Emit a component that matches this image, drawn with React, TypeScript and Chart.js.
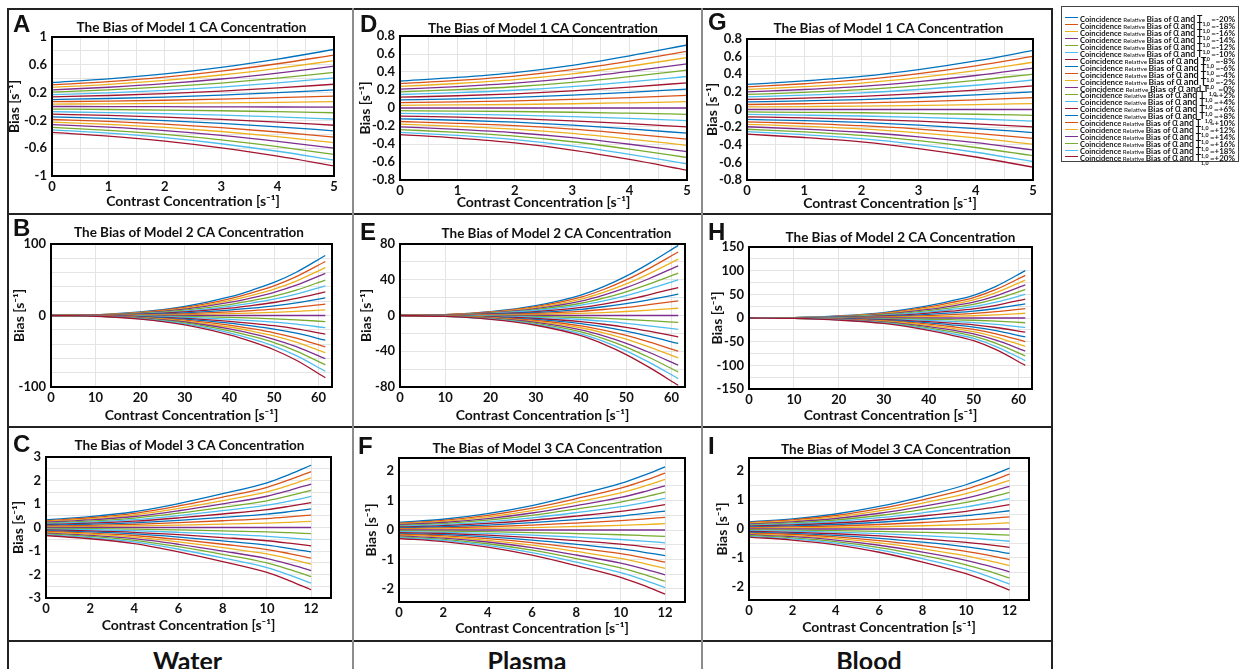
import React, { useEffect, useRef } from 'react';
import { Chart, registerables } from 'chart.js';

Chart.register(...registerables);

const FONT = "Lato, 'Open Sans', 'DejaVu Sans', sans-serif";
const LETTER_FONT = "'Liberation Sans', Arial, sans-serif";
const COLORS = ['#0072BD', '#D95319', '#EDB120', '#7E2F8E', '#77AC30', '#4DBEEE', '#A2142F'];
const GRID = '#e4e4e4';

const T_LEVELS = ['-20%', '-18%', '-16%', '-14%', '-12%', '-10%', '-8%', '-6%', '-4%', '-2%', '0%',
  '+2%', '+4%', '+6%', '+8%', '+10%', '+12%', '+14%', '+16%', '+18%', '+20%'];
const MEDIA = ['Water', 'Plasma', 'Blood'];

// ---------- Model 1 (x = 0..5) ----------
const M1_X = [0, 1, 2, 3, 4, 5];
const A_X0 = [0.345, 0.31, 0.276, 0.24, 0.207, 0.17, 0.138, 0.1, 0.069, 0.035, 0, -0.037, -0.075, -0.11, -0.15, -0.187, -0.224, -0.26, -0.3, -0.336, -0.373];
const A_X1 = [0.397, 0.357, 0.318, 0.277, 0.238, 0.196, 0.158, 0.115, 0.078, 0.039, -0.001, -0.043, -0.087, -0.128, -0.172, -0.215, -0.257, -0.297, -0.343, -0.384, -0.426];
const A_X2 = [0.469, 0.422, 0.376, 0.328, 0.281, 0.232, 0.185, 0.136, 0.09, 0.044, -0.003, -0.051, -0.102, -0.152, -0.202, -0.253, -0.301, -0.348, -0.401, -0.449, -0.498];
const A_X3 = [0.564, 0.508, 0.453, 0.396, 0.337, 0.28, 0.222, 0.164, 0.106, 0.051, -0.005, -0.061, -0.123, -0.184, -0.242, -0.303, -0.36, -0.416, -0.479, -0.536, -0.595];
const A_X4 = [0.682, 0.615, 0.549, 0.481, 0.408, 0.34, 0.267, 0.199, 0.127, 0.06, -0.007, -0.075, -0.15, -0.224, -0.292, -0.367, -0.434, -0.501, -0.577, -0.644, -0.715];
const A_X5 = [0.82, 0.74, 0.66, 0.58, 0.49, 0.41, 0.32, 0.24, 0.15, 0.07, -0.01, -0.09, -0.18, -0.27, -0.35, -0.44, -0.52, -0.6, -0.69, -0.77, -0.855];

const D_X0 = [0.3, 0.27, 0.24, 0.21, 0.18, 0.15, 0.12, 0.09, 0.06, 0.03, 0, -0.03, -0.06, -0.09, -0.12, -0.15, -0.18, -0.21, -0.24, -0.27, -0.295];
const D_X1 = [0.34, 0.306, 0.272, 0.238, 0.204, 0.17, 0.136, 0.102, 0.068, 0.034, 0, -0.034, -0.068, -0.102, -0.136, -0.17, -0.204, -0.238, -0.271, -0.305, -0.335];
const D_X2 = [0.394, 0.355, 0.315, 0.276, 0.236, 0.197, 0.158, 0.118, 0.079, 0.039, 0, -0.039, -0.079, -0.118, -0.158, -0.196, -0.235, -0.275, -0.313, -0.352, -0.388];
const D_X3 = [0.474, 0.427, 0.379, 0.332, 0.284, 0.237, 0.19, 0.142, 0.095, 0.047, 0, -0.047, -0.095, -0.142, -0.19, -0.235, -0.282, -0.33, -0.375, -0.422, -0.467];
const D_X4 = [0.58, 0.522, 0.464, 0.406, 0.348, 0.29, 0.232, 0.174, 0.116, 0.058, 0, -0.058, -0.116, -0.174, -0.232, -0.287, -0.345, -0.403, -0.457, -0.515, -0.572];
const D_X5 = [0.7, 0.63, 0.56, 0.49, 0.42, 0.35, 0.28, 0.21, 0.14, 0.07, 0, -0.07, -0.14, -0.21, -0.28, -0.345, -0.415, -0.485, -0.55, -0.62, -0.69];

const G_X0 = [0.285, 0.257, 0.228, 0.2, 0.171, 0.143, 0.114, 0.086, 0.057, 0.029, 0, -0.028, -0.056, -0.084, -0.112, -0.14, -0.168, -0.196, -0.224, -0.252, -0.28];
const G_X1 = [0.324, 0.292, 0.259, 0.227, 0.194, 0.162, 0.129, 0.098, 0.065, 0.033, 0, -0.032, -0.064, -0.095, -0.127, -0.159, -0.191, -0.222, -0.254, -0.286, -0.318];
const G_X2 = [0.375, 0.338, 0.3, 0.263, 0.225, 0.188, 0.15, 0.113, 0.075, 0.038, 0, -0.037, -0.074, -0.111, -0.147, -0.184, -0.221, -0.258, -0.294, -0.331, -0.368];
const G_X3 = [0.452, 0.408, 0.362, 0.317, 0.271, 0.227, 0.181, 0.136, 0.09, 0.046, 0, -0.045, -0.089, -0.133, -0.177, -0.222, -0.266, -0.31, -0.354, -0.399, -0.443];
const G_X4 = [0.551, 0.496, 0.441, 0.386, 0.33, 0.275, 0.22, 0.165, 0.11, 0.055, 0, -0.054, -0.108, -0.162, -0.216, -0.27, -0.323, -0.377, -0.431, -0.485, -0.539];
const G_X5 = [0.67, 0.603, 0.536, 0.469, 0.402, 0.335, 0.268, 0.201, 0.134, 0.067, 0, -0.066, -0.131, -0.197, -0.262, -0.328, -0.393, -0.459, -0.524, -0.59, -0.655];

// ---------- Model 2 (x = 0..61.5) ----------
const M2_X = [0, 10, 20, 30, 40, 45, 50, 55, 61.5];
const M2_ZERO = [0, 0, 0, 0, 0, 0, 0, 0, 0, 0, 0, 0, 0, 0, 0, 0, 0, 0, 0, 0, 0];
const B_X10 = [1.0, 0.91, 0.8, 0.71, 0.59, 0.5, 0.4, 0.29, 0.19, 0.1, 0, -0.1, -0.2, -0.31, -0.41, -0.53, -0.62, -0.73, -0.83, -0.94, -1.04];
const B_X20 = [4.87, 4.38, 3.89, 3.42, 2.87, 2.41, 1.91, 1.42, 0.93, 0.46, 0, -0.49, -0.99, -1.51, -2.0, -2.55, -3.02, -3.51, -4.0, -4.52, -5.05];
const B_X30 = [12.6, 11.3, 10.05, 8.85, 7.4, 6.2, 4.95, 3.7, 2.4, 1.2, 0, -1.3, -2.55, -3.9, -5.2, -6.6, -7.8, -9.1, -10.35, -11.7, -13.05];
const B_X40 = [26.0, 23.4, 20.8, 18.3, 15.3, 12.9, 10.2, 7.6, 5.0, 2.5, 0, -2.6, -5.3, -8.1, -10.7, -13.6, -16.1, -18.8, -21.4, -24.2, -27.0];
const B_X45 = [35.3, 31.7, 28.1, 24.8, 20.8, 17.4, 13.9, 10.3, 6.7, 3.4, 0, -3.6, -7.1, -10.9, -14.5, -18.5, -21.8, -25.4, -29.0, -32.8, -36.5];
const B_X50 = [46.2, 41.5, 36.9, 32.5, 27.2, 22.8, 18.2, 13.5, 8.8, 4.4, 0, -4.7, -9.35, -14.3, -19.0, -24.2, -28.6, -33.3, -38.0, -42.9, -47.9];
const B_X55 = [60.5, 54.4, 48.2, 42.5, 35.6, 29.9, 23.8, 17.6, 11.5, 5.8, 0, -6.1, -12.2, -18.7, -24.8, -31.7, -37.4, -43.6, -49.7, -56.2, -62.6];
const B_END = [84, 75.5, 67, 59, 49.5, 41.5, 33, 24.5, 16, 8, 0, -8.5, -17, -26, -34.5, -44, -52, -60.5, -69, -78, -87];

const E_X10 = [1.02, 0.92, 0.82, 0.72, 0.62, 0.52, 0.41, 0.31, 0.21, 0.11, 0, -0.1, -0.2, -0.31, -0.41, -0.52, -0.62, -0.72, -0.82, -0.92, -1.02];
const E_X20 = [4.32, 3.9, 3.47, 3.06, 2.61, 2.19, 1.72, 1.31, 0.9, 0.45, 0, -0.42, -0.85, -1.31, -1.72, -2.19, -2.61, -3.06, -3.47, -3.88, -4.3];
const E_X30 = [11.0, 9.94, 8.82, 7.78, 6.64, 5.59, 4.38, 3.33, 2.28, 1.13, 0, -1.08, -2.17, -3.33, -4.38, -5.59, -6.64, -7.78, -8.83, -9.88, -10.9];
const E_X40 = [22.8, 20.6, 18.3, 16.1, 13.7, 11.6, 9.1, 6.9, 4.7, 2.35, 0, -2.23, -4.5, -6.9, -9.1, -11.6, -13.7, -16.1, -18.3, -20.5, -22.6];
const E_X45 = [32.2, 29.1, 25.8, 22.8, 19.4, 16.4, 12.8, 9.8, 6.7, 3.3, 0, -3.2, -6.4, -9.8, -12.8, -16.4, -19.4, -22.8, -25.9, -28.9, -32.0];
const E_X50 = [44.0, 39.8, 35.3, 31.1, 26.5, 22.3, 17.5, 13.3, 9.1, 4.5, 0, -4.3, -8.7, -13.3, -17.5, -22.3, -26.5, -31.1, -35.3, -39.5, -43.7];
const E_X55 = [58.1, 52.5, 46.6, 41.1, 35.1, 29.5, 23.2, 17.6, 12.1, 6.0, 0, -5.7, -11.5, -17.6, -23.2, -29.5, -35.1, -41.1, -46.7, -52.2, -57.8];
const E_END = [78.5, 71, 63, 55.6, 47.4, 39.9, 31.3, 23.8, 16.3, 8.1, 0, -7.7, -15.5, -23.8, -31.3, -39.9, -47.4, -55.6, -63.1, -70.6, -78.1];

const H_X10 = [1.0, 0.9, 0.8, 0.7, 0.6, 0.5, 0.4, 0.3, 0.2, 0.1, 0, -0.1, -0.2, -0.3, -0.4, -0.5, -0.6, -0.7, -0.8, -0.9, -1.0];
const H_X20 = [4.5, 4.05, 3.6, 3.15, 2.7, 2.25, 1.8, 1.35, 0.9, 0.45, 0, -0.45, -0.9, -1.35, -1.8, -2.25, -2.7, -3.15, -3.6, -4.05, -4.5];
const H_X30 = [11.5, 10.35, 9.2, 8.05, 6.9, 5.75, 4.6, 3.45, 2.3, 1.15, 0, -1.15, -2.3, -3.45, -4.6, -5.75, -6.9, -8.05, -9.2, -10.35, -11.5];
const H_X40 = [26, 23.4, 20.8, 18.2, 15.6, 13, 10.4, 7.8, 5.2, 2.6, 0, -2.6, -5.2, -7.8, -10.4, -13, -15.6, -18.2, -20.8, -23.4, -26];
const H_X45 = [36, 32.4, 28.8, 25.2, 21.6, 18, 14.4, 10.8, 7.2, 3.6, 0, -3.6, -7.2, -10.8, -14.4, -18, -21.6, -25.2, -28.8, -32.4, -36];
const H_X50 = [48, 43.2, 38.4, 33.6, 28.8, 24, 19.2, 14.4, 9.6, 4.8, 0, -4.8, -9.6, -14.4, -19.2, -24, -28.8, -33.6, -38.4, -43.2, -48];
const H_X55 = [67, 60.3, 53.6, 46.9, 40.2, 33.5, 26.8, 20.1, 13.4, 6.7, 0, -6.7, -13.4, -20.1, -26.8, -33.5, -40.2, -46.9, -53.6, -60.3, -67];
const H_END = [100, 90, 80, 70, 60, 50, 40, 30, 20, 10, 0, -10, -20, -30, -40, -50, -60, -70, -80, -90, -100];

// ---------- Model 3 (x = 0..12) ----------
const M3_X = [0, 2, 4, 6, 8, 10, 11, 12];
const C_X0 = [0.32, 0.288, 0.256, 0.224, 0.192, 0.16, 0.128, 0.096, 0.064, 0.032, 0, -0.034, -0.068, -0.102, -0.136, -0.17, -0.204, -0.238, -0.272, -0.306, -0.34];
const C_X2 = [0.46, 0.414, 0.367, 0.322, 0.275, 0.23, 0.184, 0.138, 0.092, 0.046, 0, -0.048, -0.095, -0.143, -0.19, -0.238, -0.285, -0.334, -0.381, -0.43, -0.479];
const C_X4 = [0.67, 0.602, 0.534, 0.468, 0.4, 0.334, 0.268, 0.2, 0.134, 0.066, 0, -0.068, -0.136, -0.204, -0.272, -0.34, -0.407, -0.477, -0.545, -0.616, -0.687];
const C_X6 = [1.019, 0.916, 0.812, 0.712, 0.608, 0.508, 0.408, 0.304, 0.204, 0.1, 0, -0.102, -0.204, -0.305, -0.407, -0.509, -0.611, -0.716, -0.817, -0.925, -1.033];
const C_X8 = [1.438, 1.292, 1.146, 1.004, 0.858, 0.717, 0.575, 0.429, 0.288, 0.141, 0, -0.142, -0.285, -0.427, -0.57, -0.712, -0.855, -1.002, -1.145, -1.297, -1.449];
const C_X10 = [1.904, 1.711, 1.517, 1.33, 1.136, 0.949, 0.762, 0.568, 0.381, 0.187, 0, -0.188, -0.375, -0.563, -0.751, -0.938, -1.126, -1.321, -1.508, -1.71, -1.911];
const C_X11 = [2.254, 2.024, 1.795, 1.574, 1.344, 1.123, 0.902, 0.672, 0.451, 0.221, 0, -0.222, -0.443, -0.665, -0.886, -1.108, -1.329, -1.559, -1.781, -2.019, -2.257];
const C_X12 = [2.65, 2.38, 2.11, 1.85, 1.58, 1.32, 1.06, 0.79, 0.53, 0.26, 0, -0.26, -0.52, -0.78, -1.04, -1.3, -1.56, -1.83, -2.09, -2.37, -2.65];

const F_X0 = [0.26, 0.234, 0.208, 0.182, 0.156, 0.13, 0.104, 0.078, 0.052, 0.026, 0, -0.029, -0.058, -0.087, -0.116, -0.145, -0.174, -0.203, -0.232, -0.261, -0.29];
const F_X2 = [0.366, 0.329, 0.293, 0.256, 0.22, 0.183, 0.146, 0.11, 0.073, 0.037, 0, -0.04, -0.079, -0.119, -0.158, -0.198, -0.238, -0.277, -0.317, -0.356, -0.396];
const F_X4 = [0.555, 0.499, 0.444, 0.388, 0.333, 0.277, 0.222, 0.166, 0.111, 0.055, 0, -0.058, -0.117, -0.175, -0.234, -0.292, -0.351, -0.409, -0.468, -0.526, -0.585];
const F_X6 = [0.827, 0.744, 0.662, 0.579, 0.496, 0.414, 0.331, 0.248, 0.165, 0.083, 0, -0.086, -0.171, -0.257, -0.343, -0.429, -0.514, -0.6, -0.686, -0.771, -0.857];
const F_X8 = [1.186, 1.067, 0.949, 0.83, 0.712, 0.593, 0.474, 0.356, 0.237, 0.119, 0, -0.122, -0.243, -0.365, -0.486, -0.608, -0.73, -0.851, -0.973, -1.094, -1.216];
const F_X10 = [1.583, 1.425, 1.266, 1.108, 0.95, 0.792, 0.633, 0.475, 0.317, 0.158, 0, -0.161, -0.323, -0.484, -0.645, -0.807, -0.968, -1.129, -1.29, -1.452, -1.613];
const F_X11 = [1.848, 1.663, 1.478, 1.293, 1.109, 0.924, 0.739, 0.554, 0.37, 0.185, 0, -0.188, -0.376, -0.563, -0.751, -0.939, -1.127, -1.314, -1.502, -1.69, -1.878];
const F_X12 = [2.15, 1.935, 1.72, 1.505, 1.29, 1.075, 0.86, 0.645, 0.43, 0.215, 0, -0.218, -0.436, -0.654, -0.872, -1.09, -1.308, -1.526, -1.744, -1.962, -2.18];

const I_X0 = [0.25, 0.225, 0.2, 0.175, 0.15, 0.125, 0.1, 0.075, 0.05, 0.025, 0, -0.028, -0.056, -0.084, -0.112, -0.14, -0.168, -0.196, -0.224, -0.252, -0.28];
const I_X2 = [0.352, 0.317, 0.281, 0.246, 0.211, 0.176, 0.141, 0.106, 0.07, 0.035, 0, -0.038, -0.076, -0.114, -0.152, -0.19, -0.228, -0.266, -0.305, -0.343, -0.381];
const I_X4 = [0.518, 0.466, 0.415, 0.363, 0.311, 0.259, 0.207, 0.155, 0.104, 0.052, 0, -0.055, -0.109, -0.164, -0.218, -0.273, -0.327, -0.382, -0.436, -0.491, -0.545];
const I_X6 = [0.777, 0.7, 0.622, 0.544, 0.466, 0.389, 0.311, 0.233, 0.155, 0.078, 0, -0.08, -0.16, -0.24, -0.321, -0.401, -0.481, -0.561, -0.641, -0.721, -0.802];
const I_X8 = [1.12, 1.008, 0.896, 0.784, 0.672, 0.56, 0.448, 0.336, 0.224, 0.112, 0, -0.114, -0.228, -0.342, -0.456, -0.57, -0.684, -0.798, -0.912, -1.026, -1.14];
const I_X10 = [1.527, 1.374, 1.221, 1.069, 0.916, 0.763, 0.611, 0.458, 0.305, 0.153, 0, -0.154, -0.309, -0.463, -0.617, -0.771, -0.926, -1.08, -1.234, -1.388, -1.543];
const I_X11 = [1.795, 1.615, 1.436, 1.256, 1.077, 0.897, 0.718, 0.538, 0.359, 0.179, 0, -0.181, -0.362, -0.542, -0.723, -0.904, -1.085, -1.266, -1.446, -1.627, -1.808];
const I_X12 = [2.1, 1.89, 1.68, 1.47, 1.26, 1.05, 0.84, 0.63, 0.42, 0.21, 0, -0.211, -0.422, -0.633, -0.844, -1.055, -1.266, -1.477, -1.688, -1.899, -2.11];

// ---------- axis tick labels ----------
const M1_XLABELS = [0, 1, 2, 3, 4, 5];
const M2_XLABELS = [0, 10, 20, 30, 40, 50, 60];
const M3_XLABELS = [0, 2, 4, 6, 8, 10, 12];
const A_YLABELS = [-1, -0.6, -0.2, 0.2, 0.6, 1];
const DG_YLABELS = [-0.8, -0.6, -0.4, -0.2, 0, 0.2, 0.4, 0.6, 0.8];
const B_YLABELS = [-100, 0, 100];
const E_YLABELS = [-80, -40, 0, 40, 80];
const H_YLABELS = [-150, -100, -50, 0, 50, 100, 150];
const C_YLABELS = [-3, -2, -1, 0, 1, 2, 3];
const FI_YLABELS = [-2, -1, 0, 1, 2];

const M1 = { xs: M1_X, xMax: 5, xStep: 0.5, xLabels: M1_XLABELS, model: 1 };
const M2 = { xs: M2_X, xMax: 63, xStep: 10, xLabels: M2_XLABELS, model: 2 };
const M3 = { xs: M3_X, xMax: 12.9, xStep: 2, xLabels: M3_XLABELS, model: 3 };

const PANELS = [
  { letter: 'A', ...M1, cols: [A_X0, A_X1, A_X2, A_X3, A_X4, A_X5], yMin: -1, yMax: 1, yStep: 0.2, yLabels: A_YLABELS,
    cell: { l: 9, t: 10, r: 352, b: 213 }, plot: { l: 52, t: 37, r: 334, b: 176 }, yTitleX: 14, xTitleY: 201, title: [191.5, 28], letterPos: [13, 15] },
  { letter: 'B', ...M2, cols: [M2_ZERO, B_X10, B_X20, B_X30, B_X40, B_X45, B_X50, B_X55, B_END], yMin: -100, yMax: 100, yStep: 20, yLabels: B_YLABELS,
    cell: { l: 9, t: 216, r: 352, b: 426 }, plot: { l: 51, t: 244, r: 332, b: 387 }, yTitleX: 19, xTitleY: 415, title: [189, 233], letterPos: [13, 219] },
  { letter: 'C', ...M3, cols: [C_X0, C_X2, C_X4, C_X6, C_X8, C_X10, C_X11, C_X12], yMin: -3, yMax: 3, yStep: 0.5, yLabels: C_YLABELS,
    cell: { l: 9, t: 428, r: 352, b: 640 }, plot: { l: 46, t: 457, r: 331, b: 598 }, yTitleX: 18, xTitleY: 625, title: [189.5, 446], letterPos: [13, 435] },
  { letter: 'D', ...M1, cols: [D_X0, D_X1, D_X2, D_X3, D_X4, D_X5], yMin: -0.8, yMax: 0.8, yStep: 0.2, yLabels: DG_YLABELS,
    cell: { l: 354, t: 10, r: 701, b: 213 }, plot: { l: 400, t: 36, r: 687, b: 180 }, yTitleX: 365, xTitleY: 202, title: [543, 29], letterPos: [360, 15] },
  { letter: 'E', ...M2, cols: [M2_ZERO, E_X10, E_X20, E_X30, E_X40, E_X45, E_X50, E_X55, E_END], yMin: -80, yMax: 80, yStep: 20, yLabels: E_YLABELS,
    cell: { l: 354, t: 216, r: 701, b: 426 }, plot: { l: 400, t: 244, r: 685, b: 387 }, yTitleX: 366, xTitleY: 415, title: [556.5, 234], letterPos: [360, 223] },
  { letter: 'F', ...M3, cols: [F_X0, F_X2, F_X4, F_X6, F_X8, F_X10, F_X11, F_X12], yMin: -2.45, yMax: 2.45, yStep: 0.5, yLabels: FI_YLABELS,
    cell: { l: 354, t: 428, r: 701, b: 640 }, plot: { l: 399, t: 458, r: 685, b: 602 }, yTitleX: 371, xTitleY: 628, title: [547.5, 449], letterPos: [358, 437] },
  { letter: 'G', ...M1, cols: [G_X0, G_X1, G_X2, G_X3, G_X4, G_X5], yMin: -0.8, yMax: 0.8, yStep: 0.2, yLabels: DG_YLABELS,
    cell: { l: 703, t: 10, r: 1051, b: 213 }, plot: { l: 747, t: 39, r: 1033, b: 180 }, yTitleX: 712, xTitleY: 203, title: [888.5, 29], letterPos: [708, 13] },
  { letter: 'H', ...M2, cols: [M2_ZERO, H_X10, H_X20, H_X30, H_X40, H_X45, H_X50, H_X55, H_END], yMin: -150, yMax: 150, yStep: 25, yLabels: H_YLABELS,
    cell: { l: 703, t: 216, r: 1051, b: 426 }, plot: { l: 749, t: 247, r: 1032, b: 389 }, yTitleX: 717, xTitleY: 415, title: [900.5, 238], letterPos: [708, 223] },
  { letter: 'I', ...M3, cols: [I_X0, I_X2, I_X4, I_X6, I_X8, I_X10, I_X11, I_X12], yMin: -2.45, yMax: 2.45, yStep: 0.5, yLabels: FI_YLABELS,
    cell: { l: 703, t: 428, r: 1051, b: 640 }, plot: { l: 749, t: 458, r: 1029, b: 600 }, yTitleX: 722, xTitleY: 627, title: [896, 450], letterPos: [708, 437] },
];

const fmt = (v: number) => String(Math.round(v * 100) / 100);
const labelFor = (v: number, labels: number[]) => (labels.some((l) => Math.abs(l - v) < 1e-6) ? fmt(v) : '');

const framePlugin = {
  id: 'plotFrame',
  afterDraw(chart: any) {
    const { ctx, chartArea } = chart;
    const { left, top, right, bottom } = chartArea;
    ctx.save();
    ctx.strokeStyle = '#000';
    ctx.lineWidth = 2;
    ctx.strokeRect(left, top, right - left, bottom - top);
    ctx.restore();
  },
};

function PanelChart({ p }: { p: any }) {
  const ref = useRef<HTMLCanvasElement>(null);
  const w = p.cell.r - p.cell.l;
  const h = p.cell.b - p.cell.t;
  useEffect(() => {
    const canvas = ref.current;
    if (!canvas) return;
    const TITLE_SIZE = 14;
    const lh = TITLE_SIZE; // lineHeight 1
    const yw = p.plot.l - p.cell.l;
    const xScaleBottom = p.xTitleY + lh / 2;
    const xh = xScaleBottom - p.plot.b;
    const padBottom = p.cell.b - xScaleBottom;
    const padTop = p.plot.t - p.cell.t;
    const padRight = p.cell.r - p.plot.r;
    const yTitlePad = p.yTitleX - p.cell.l - lh / 2;

    const datasets = T_LEVELS.map((lvl, i) => ({
      label: `Coincidence Relative Bias of α and T1,0 =${lvl}`,
      data: p.xs.map((x: number, j: number) => ({ x, y: p.cols[j][i] })),
      borderColor: COLORS[i % COLORS.length],
      backgroundColor: COLORS[i % COLORS.length],
      borderWidth: 1.3,
      pointRadius: 0,
      cubicInterpolationMode: 'monotone',
      fill: false,
      order: T_LEVELS.length - i,
    }));

    const tickFont = { family: FONT, size: 13, weight: 'bold' as const };
    const titleFont = { family: FONT, size: TITLE_SIZE, weight: 'bold' as const, lineHeight: 1 };

    const chart = new Chart(canvas, {
      type: 'line',
      data: { datasets } as any,
      options: {
        animation: false,
        responsive: false,
        events: [],
        layout: { padding: { left: 0, top: padTop, right: padRight, bottom: padBottom } },
        plugins: { legend: { display: false }, tooltip: { enabled: false }, title: { display: false } },
        scales: {
          x: {
            type: 'linear',
            min: 0,
            max: p.xMax,
            afterFit: (s: any) => { s.height = xh; },
            grid: { color: GRID, drawTicks: false },
            border: { display: false },
            ticks: {
              stepSize: p.xStep, includeBounds: false, autoSkip: false, maxRotation: 0, minRotation: 0,
              padding: 3, color: '#111', font: tickFont,
              callback: (v: any) => labelFor(Number(v), p.xLabels),
            },
            title: { display: true, text: 'Contrast Concentration [s⁻¹]', color: '#111', font: titleFont, padding: 0 },
          },
          y: {
            type: 'linear',
            min: p.yMin,
            max: p.yMax,
            afterFit: (s: any) => { s.width = yw; },
            grid: { color: GRID, drawTicks: false },
            border: { display: false },
            ticks: {
              stepSize: p.yStep, includeBounds: false, autoSkip: false,
              padding: 5, color: '#111', font: tickFont,
              callback: (v: any) => labelFor(Number(v), p.yLabels),
            },
            title: { display: true, text: 'Bias [s⁻¹]', color: '#111', font: titleFont, padding: { top: yTitlePad, bottom: 0 } },
          },
        },
      } as any,
      plugins: [framePlugin],
    });
    return () => chart.destroy();
  }, []);
  return (
    <canvas
      ref={ref}
      width={w}
      height={h}
      style={{ position: 'absolute', left: p.cell.l, top: p.cell.t, width: w, height: h }}
    />
  );
}

const BORDERS = [
  { l: 7, t: 8, w: 1046, h: 2, c: '#222' },
  { l: 7, t: 8, w: 2, h: 661, c: '#222' },
  { l: 1051, t: 8, w: 2, h: 661, c: '#222' },
  { l: 7, t: 213, w: 1046, h: 2, c: '#222' },
  { l: 7, t: 426, w: 1046, h: 2, c: '#222' },
  { l: 7, t: 640, w: 1046, h: 2, c: '#222' },
  { l: 352, t: 8, w: 2, h: 661, c: '#8c8c8c' },
  { l: 701, t: 8, w: 2, h: 661, c: '#8c8c8c' },
];

const MEDIA_X = [187.5, 527, 869];
const LEGEND_TEXT_WIDTH = 155;

function Legend() {
  const boxRef = useRef<HTMLDivElement>(null);
  useEffect(() => {
    const box = boxRef.current;
    if (!box) return;
    box.querySelectorAll<HTMLSpanElement>('[data-lt]').forEach((el) => {
      el.style.transform = 'none';
      const w = el.getBoundingClientRect().width;
      if (w > 0) el.style.transform = `scaleX(${LEGEND_TEXT_WIDTH / w})`;
    });
  }, []);
  return (
    <div
      ref={boxRef}
      style={{
        position: 'absolute', left: 1061, top: 6, width: 176, height: 154,
        border: '1px solid #444', background: '#fff', fontFamily: FONT, color: '#111',
      }}
    >
      {T_LEVELS.map((lvl, i) => (
        <div
          key={lvl}
          style={{ position: 'absolute', left: 0, top: 5 + 6.95 * i, height: 7, lineHeight: '7px', whiteSpace: 'nowrap' }}
        >
          <span
            style={{
              display: 'inline-block', width: 13, height: 0, borderTop: `1.3px solid ${COLORS[i % COLORS.length]}`,
              verticalAlign: 'middle', marginLeft: 3, marginRight: 2,
            }}
          />
          <span data-lt="1" style={{ display: 'inline-block', transformOrigin: 'left center', whiteSpace: 'nowrap' }}>
            <span style={{ fontSize: 7.6, fontWeight: 700 }}>Coincidence</span>
            <span style={{ fontSize: 6.2, marginLeft: 1.5 }}>Relative</span>
            <span style={{ fontSize: 8.2, fontWeight: 700, marginLeft: 1.5 }}>Bias of</span>
            <span style={{ fontSize: 10.5, marginLeft: 1.5 }}>α</span>
            <span style={{ fontSize: 8.8, fontWeight: 700, marginLeft: 1.5 }}>and T</span>
            <sub style={{ fontSize: 5.3, fontWeight: 700, lineHeight: 0 }}>1,0</sub>
            <span style={{ fontSize: 8, fontWeight: 700, marginLeft: 1.5 }}>={lvl}</span>
          </span>
        </div>
      ))}
    </div>
  );
}

export default function App() {
  useEffect(() => {
    Chart.defaults.font.family = FONT;
  }, []);
  return (
    <div
      style={{
        position: 'fixed', left: 0, top: 0, width: 1240, height: 669, background: '#fff',
        overflow: 'hidden', fontFamily: FONT, color: '#111',
      }}
    >
      {PANELS.map((p) => (
        <PanelChart key={p.letter} p={p} />
      ))}
      {PANELS.map((p) => (
        <div
          key={'t' + p.letter}
          style={{
            position: 'absolute', left: p.title[0], top: p.title[1], transform: 'translate(-50%, -50%)',
            fontSize: 13.5, fontWeight: 700, lineHeight: 1, whiteSpace: 'nowrap',
          }}
        >
          {`The Bias of Model ${p.model} CA Concentration`}
        </div>
      ))}
      {PANELS.map((p) => (
        <div
          key={'l' + p.letter}
          style={{
            position: 'absolute', left: p.letterPos[0], top: p.letterPos[1] - 3,
            fontFamily: LETTER_FONT, fontSize: 24, fontWeight: 700, lineHeight: 1, color: '#111',
          }}
        >
          {p.letter}
        </div>
      ))}
      {MEDIA.map((m, i) => (
        <div
          key={m}
          style={{
            position: 'absolute', left: MEDIA_X[i], top: 648, transform: 'translateX(-50%)',
            fontSize: 25, fontWeight: 700, lineHeight: 1, whiteSpace: 'nowrap',
          }}
        >
          {m}
        </div>
      ))}
      {BORDERS.map((b, i) => (
        <div key={'b' + i} style={{ position: 'absolute', left: b.l, top: b.t, width: b.w, height: b.h, background: b.c }} />
      ))}
      <Legend />
    </div>
  );
}
